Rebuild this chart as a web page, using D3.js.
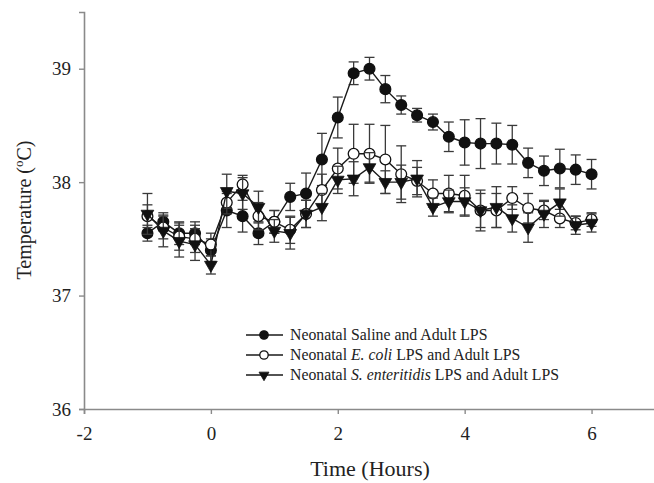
<!DOCTYPE html>
<html><head><meta charset="utf-8">
<script src="https://cdn.jsdelivr.net/npm/d3@7"></script>
<style>body{margin:0;background:#fff;} svg{display:block;font-family:"Liberation Serif","Times New Roman",serif;}</style>
</head><body>
<script>
const times = [-1,-0.75,-0.5,-0.25,0,0.25,0.5,0.75,1,1.25,1.5,1.75,2,2.25,2.5,2.75,3,3.25,3.5,3.75,4,4.25,4.5,4.75,5,5.25,5.5,5.75,6];
const salineMean = [37.55,37.65,37.55,37.55,37.4,37.75,37.7,37.55,37.65,37.87,37.9,38.2,38.57,38.96,39.0,38.82,38.68,38.59,38.53,38.4,38.35,38.34,38.34,38.33,38.17,38.1,38.12,38.11,38.07];
const salineErr  = [0.07,0.08,0.1,0.1,0.1,0.15,0.14,0.1,0.1,0.12,0.18,0.23,0.18,0.1,0.1,0.12,0.08,0.06,0.07,0.13,0.2,0.22,0.18,0.17,0.13,0.13,0.17,0.13,0.13];
const ecoliMean  = [37.7,37.6,37.52,37.5,37.45,37.82,37.98,37.7,37.65,37.58,37.72,37.93,38.12,38.25,38.25,38.2,38.07,38.01,37.9,37.9,37.88,37.75,37.75,37.86,37.77,37.75,37.68,37.64,37.67];
const ecoliErr   = [0.1,0.1,0.12,0.12,0.1,0.1,0.08,0.12,0.1,0.12,0.12,0.14,0.18,0.26,0.26,0.3,0.25,0.12,0.12,0.16,0.18,0.15,0.15,0.1,0.13,0.08,0.08,0.06,0.06];
const senterMean = [37.72,37.57,37.48,37.45,37.27,37.92,37.9,37.78,37.57,37.55,37.72,37.78,38.02,38.03,38.13,38.0,38.0,38.03,37.78,37.83,37.83,37.75,37.78,37.68,37.6,37.72,37.82,37.62,37.64];
const senterErr  = [0.18,0.14,0.14,0.14,0.08,0.15,0.14,0.14,0.1,0.14,0.12,0.12,0.12,0.15,0.13,0.1,0.15,0.16,0.08,0.1,0.12,0.18,0.18,0.12,0.13,0.12,0.12,0.08,0.08];
const xTicks = [-2,0,2,4,6];
const yTicks = [36,37,38,39];
const seriesNames = ["Neonatal Saline and Adult LPS","Neonatal E. coli LPS and Adult LPS","Neonatal S. enteritidis LPS and Adult LPS"];

const W = 654, H = 483;
const svg = d3.select("body").append("svg").attr("width", W).attr("height", H);
const x = d3.scaleLinear().domain([-2,7]).range([84,655]);
const y = d3.scaleLinear().domain([36,39.5]).range([409,12]);
const axisColor = "#8a8a8a";

// axes
const xa = svg.append("g").attr("transform", `translate(0,${y(36)})`)
  .call(d3.axisBottom(x).tickValues(xTicks).tickSize(5).tickPadding(8).tickFormat(d => String(d)));
const ya = svg.append("g").attr("transform", `translate(${x(-2)},0)`)
  .call(d3.axisLeft(y).tickValues(yTicks).tickSize(5).tickPadding(8).tickFormat(d => String(d)));
[xa, ya].forEach(a => {
  a.select(".domain").attr("stroke", axisColor).attr("stroke-width", 1.6);
  a.selectAll(".tick line").attr("stroke", axisColor).attr("stroke-width", 1.4);
  a.selectAll("text").attr("font-family", "Liberation Serif").attr("font-size", 19).attr("fill", "#222");
});
xa.selectAll("text").attr("dy", "0.95em");

svg.append("text").attr("x", 370).attr("y", 476).attr("text-anchor", "middle")
  .attr("font-size", 22).attr("fill", "#222").text("Time (Hours)");
const yt = svg.append("text").attr("transform", "translate(31,210) rotate(-90)").attr("text-anchor", "middle")
  .attr("font-size", 20).attr("fill", "#222");
yt.append("tspan").text("Temperature (");
yt.append("tspan").attr("font-size", 13).attr("dy", -8).text("o");
yt.append("tspan").attr("dy", 8).text("C)");

const series = [
  {mean: salineMean, err: salineErr, type: "filled"},
  {mean: ecoliMean, err: ecoliErr, type: "open"},
  {mean: senterMean, err: senterErr, type: "tri"}
];
const lineCol = "#1a1a1a", errCol = "#3a3a3a";

function drawMarker(g, type, scale) {
  if (type === "tri") {
    g.append("path").attr("d", d3.symbol().type(d3.symbolTriangle).size(70 * scale * scale)())
      .attr("transform", "rotate(180)").attr("fill", "#111").attr("stroke", "#111").attr("stroke-width", 0.8);
  } else {
    g.append("circle").attr("r", 5.4 * scale).attr("fill", type === "filled" ? "#111" : "#fff")
      .attr("stroke", "#111").attr("stroke-width", 1.3);
  }
}

series.forEach(s => {
  const pts = times.map((t, i) => ({t, m: s.mean[i], e: s.err[i]}));
  const g = svg.append("g");
  const eb = g.selectAll(".eb").data(pts).join("g").attr("stroke", errCol).attr("stroke-width", 1.3);
  eb.append("line").attr("x1", d => x(d.t)).attr("x2", d => x(d.t)).attr("y1", d => y(d.m - d.e)).attr("y2", d => y(d.m + d.e));
  eb.append("line").attr("x1", d => x(d.t) - 5).attr("x2", d => x(d.t) + 5).attr("y1", d => y(d.m + d.e)).attr("y2", d => y(d.m + d.e));
  eb.append("line").attr("x1", d => x(d.t) - 5).attr("x2", d => x(d.t) + 5).attr("y1", d => y(d.m - d.e)).attr("y2", d => y(d.m - d.e));
  g.append("path").datum(pts).attr("fill", "none").attr("stroke", lineCol).attr("stroke-width", 1.4)
    .attr("d", d3.line().x(d => x(d.t)).y(d => y(d.m)));
  g.selectAll(".mk").data(pts).join("g").attr("transform", d => `translate(${x(d.t)},${y(d.m)})`)
    .each(function() { drawMarker(d3.select(this), s.type, 1); });
});

// legend
const legY = [335, 355, 375];
const lg = svg.append("g");
series.forEach((s, i) => {
  const row = lg.append("g").attr("transform", `translate(0,${legY[i]})`);
  row.append("line").attr("x1", 246).attr("x2", 283).attr("y1", 0).attr("y2", 0).attr("stroke", lineCol).attr("stroke-width", 1.5);
  const m = row.append("g").attr("transform", "translate(264,0)");
  drawMarker(m, s.type, 0.78);
  const t = row.append("text").attr("x", 290).attr("y", 5).attr("font-size", 15.8).attr("fill", "#222");
  if (i === 0) t.text(seriesNames[0]);
  else if (i === 1) {
    t.append("tspan").text("Neonatal ");
    t.append("tspan").attr("font-style", "italic").text("E. coli");
    t.append("tspan").text(" LPS and Adult LPS");
  } else {
    t.append("tspan").text("Neonatal ");
    t.append("tspan").attr("font-style", "italic").text("S. enteritidis");
    t.append("tspan").text(" LPS and Adult LPS");
  }
});
</script>
</body></html>
